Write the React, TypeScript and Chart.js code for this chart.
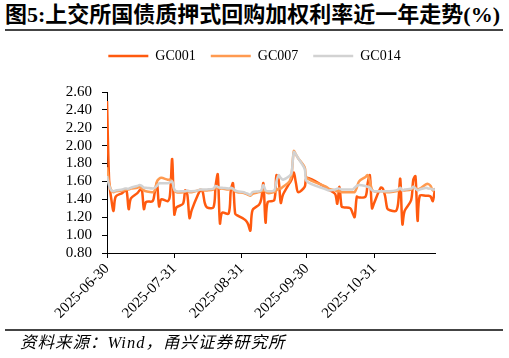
import React, { useEffect, useRef } from 'react';
import { Chart, registerables } from 'chart.js';

Chart.register(...registerables);

const START = '2025-06-30';
const END = '2025-11-28';

const dates = [
  '2025-06-30',
  '2025-07-01','2025-07-02','2025-07-03','2025-07-04','2025-07-07','2025-07-08','2025-07-09','2025-07-10','2025-07-11','2025-07-14','2025-07-15','2025-07-16','2025-07-17','2025-07-18','2025-07-21','2025-07-22','2025-07-23','2025-07-24','2025-07-25','2025-07-28','2025-07-29','2025-07-30','2025-07-31',
  '2025-08-01','2025-08-04','2025-08-05','2025-08-06','2025-08-07','2025-08-08','2025-08-11','2025-08-12','2025-08-13','2025-08-14','2025-08-15','2025-08-18','2025-08-19','2025-08-20','2025-08-21','2025-08-22','2025-08-25','2025-08-26','2025-08-27','2025-08-28','2025-08-29',
  '2025-09-01','2025-09-02','2025-09-03','2025-09-04','2025-09-05','2025-09-08','2025-09-09','2025-09-10','2025-09-11','2025-09-12','2025-09-15','2025-09-16','2025-09-17','2025-09-18','2025-09-19','2025-09-22','2025-09-23','2025-09-24','2025-09-25','2025-09-26','2025-09-29','2025-09-30',
  '2025-10-09','2025-10-10','2025-10-13','2025-10-14','2025-10-15','2025-10-16','2025-10-17','2025-10-20','2025-10-21','2025-10-22','2025-10-23','2025-10-24','2025-10-27','2025-10-28','2025-10-29','2025-10-30','2025-10-31',
  '2025-11-03','2025-11-04','2025-11-05','2025-11-06','2025-11-07','2025-11-10','2025-11-11','2025-11-12','2025-11-13','2025-11-14','2025-11-17','2025-11-18','2025-11-19','2025-11-20','2025-11-21','2025-11-24','2025-11-25','2025-11-26','2025-11-27','2025-11-28',
];

const gc001 = [
  2.50,
  1.60,1.40,1.27,1.43,1.47,1.49,1.50,1.29,1.41,1.47,1.50,1.52,1.29,1.37,1.38,1.48,1.58,1.32,1.40,1.38,1.45,1.85,1.23,
  1.31,1.35,1.50,1.45,1.19,1.28,1.46,1.50,1.49,1.36,1.31,1.31,1.55,1.68,1.13,1.25,1.24,1.50,1.58,1.24,1.22,
  1.18,1.16,1.12,1.05,1.28,1.34,1.40,1.58,1.14,1.37,1.39,1.67,1.62,1.36,1.45,1.58,1.62,1.70,1.58,1.48,1.54,1.64,
  1.53,1.51,1.46,1.35,1.54,1.32,1.31,1.30,1.25,1.20,1.43,1.42,1.43,1.58,1.67,1.30,1.36,
  1.53,1.52,1.44,1.30,1.28,1.27,1.35,1.63,1.12,1.27,1.39,1.62,1.66,1.16,1.44,1.44,1.44,1.43,1.38,1.52,
];

const gc007 = [
  1.76,
  1.58,1.50,1.48,1.49,1.50,1.50,1.51,1.51,1.52,1.53,1.54,1.52,1.50,1.49,1.48,1.50,1.60,1.63,1.64,1.62,1.62,1.60,1.50,
  1.48,1.48,1.49,1.49,1.48,1.48,1.50,1.51,1.50,1.50,1.50,1.51,1.53,1.53,1.52,1.52,1.51,1.52,1.51,1.49,1.48,
  1.47,1.46,1.45,1.44,1.46,1.48,1.49,1.50,1.49,1.47,1.48,1.50,1.52,1.52,1.54,1.60,1.68,1.94,1.90,1.86,1.76,1.64,
  1.54,1.52,1.50,1.49,1.49,1.48,1.48,1.48,1.48,1.48,1.53,1.60,1.65,1.67,1.60,1.51,1.49,
  1.49,1.49,1.48,1.48,1.48,1.49,1.50,1.52,1.50,1.50,1.51,1.54,1.53,1.51,1.52,1.57,1.57,1.55,1.50,1.52,
];

const gc014 = [
  1.66,
  1.55,1.50,1.49,1.50,1.51,1.52,1.52,1.52,1.53,1.55,1.56,1.55,1.53,1.53,1.52,1.53,1.55,1.58,1.58,1.58,1.59,1.60,1.51,
  1.49,1.49,1.49,1.50,1.49,1.49,1.50,1.51,1.51,1.51,1.51,1.52,1.55,1.54,1.53,1.53,1.52,1.53,1.52,1.50,1.49,
  1.48,1.47,1.46,1.45,1.48,1.49,1.50,1.56,1.50,1.49,1.50,1.60,1.67,1.64,1.62,1.66,1.70,1.93,1.90,1.86,1.74,1.60,
  1.51,1.50,1.51,1.52,1.52,1.51,1.51,1.51,1.51,1.53,1.55,1.56,1.55,1.54,1.53,1.50,1.49,
  1.49,1.49,1.49,1.49,1.49,1.50,1.51,1.53,1.50,1.51,1.52,1.54,1.52,1.50,1.51,1.53,1.52,1.52,1.51,1.51,
];

const seriesNames = ['GC001', 'GC007', 'GC014'];
const seriesColors = ['#FF5A0F', '#FF9A50', '#D2D2D2'];
const tickDates = ['2025-06-30', '2025-07-31', '2025-08-31', '2025-09-30', '2025-10-31'];
const yMin = 0.8;
const yMax = 2.6;
const yStep = 0.2;

const DAY = 86400000;
const dayIndex = (d: string) => Math.round((Date.parse(d) - Date.parse(START)) / DAY);
const dateForDay = (n: number) => new Date(Date.parse(START) + n * DAY).toISOString().slice(0, 10);

const FONT = '"Liberation Serif", "Times New Roman", serif';

export default function App() {
  const ref = useRef<HTMLCanvasElement | null>(null);

  useEffect(() => {
    if (!ref.current) return;
    const values = [gc001, gc007, gc014];
    const datasets = values.map((vals, i) => ({
      label: seriesNames[i],
      data: vals.map((v, j) => ({ x: dayIndex(dates[j]), y: v })),
      borderColor: seriesColors[i],
      backgroundColor: seriesColors[i],
      borderWidth: 2.5,
      pointRadius: 0,
      tension: 0.3,
      fill: false,
      order: 3 - i,
      yAxisID: 'y',
    }));

    const legendSpace = {
      id: 'legendSpace',
      beforeInit(chart: any) {
        const orig = chart.legend.fit;
        chart.legend.fit = function () {
          orig.call(this);
          this.height += 19;
        };
      },
    };

    const chart = new Chart(ref.current, {
      type: 'line',
      data: { datasets },
      plugins: [legendSpace],
      options: {
        animation: false,
        responsive: false,
        devicePixelRatio: 1,
        layout: { padding: 0 },
        plugins: {
          tooltip: { enabled: false },
          legend: {
            display: true,
            position: 'top',
            labels: {
              font: { family: FONT, size: 14 },
              color: '#000',
              usePointStyle: true,
              pointStyle: 'line',
              pointStyleWidth: 40,
              padding: 15,
              sort: (a: any, b: any) => a.datasetIndex - b.datasetIndex,
            },
          },
        },
        scales: {
          x: {
            type: 'linear',
            min: 0,
            max: dayIndex(END),
            afterBuildTicks: (axis: any) => {
              axis.ticks = tickDates.map((d) => ({ value: dayIndex(d) }));
            },
            afterFit: (axis: any) => {
              axis.height = 77;
            },
            ticks: {
              autoSkip: false,
              minRotation: 45,
              maxRotation: 45,
              padding: 2,
              color: '#000',
              font: { family: FONT, size: 15 },
              callback: (v: any) => dateForDay(Number(v)),
            },
            grid: { drawOnChartArea: false, drawTicks: true, tickLength: 5, tickColor: '#000', tickWidth: 1 },
            border: { display: true, color: '#000', width: 1 },
          },
          y: {
            type: 'linear',
            position: 'left',
            min: yMin,
            max: yMax,
            afterFit: (axis: any) => {
              axis.width = 107;
            },
            ticks: {
              stepSize: yStep,
              autoSkip: false,
              padding: 10,
              color: '#000',
              font: { family: FONT, size: 15 },
              callback: (v: any) => Number(v).toFixed(2),
            },
            grid: { drawOnChartArea: false, drawTicks: true, tickLength: 5, tickColor: '#000', tickWidth: 1 },
            border: { display: true, color: '#000', width: 1 },
          },
          yRight: {
            type: 'linear',
            position: 'right',
            display: true,
            afterFit: (axis: any) => {
              axis.width = 74;
            },
            ticks: { display: false },
            grid: { display: false, drawTicks: false },
            border: { display: false },
          },
        },
      },
    } as any);
    return () => chart.destroy();
  }, []);

  return (
    <div style={{ position: 'fixed', left: 0, top: 0, width: 509, height: 358, background: '#fff', overflow: 'hidden' }}>
      <div
        style={{
          position: 'absolute',
          left: 5,
          top: 3,
          fontFamily: '"Liberation Serif", "Noto Sans CJK SC", serif',
          fontWeight: 700,
          fontSize: 22,
          lineHeight: '24px',
          whiteSpace: 'nowrap',
          color: '#000',
        }}
      >
        图5:上交所国债质押式回购加权利率近一年走势(%)
      </div>
      <div style={{ position: 'absolute', left: 5, top: 29, width: 498, height: 1.5, background: '#444' }} />
      <canvas ref={ref} width={509} height={296} style={{ position: 'absolute', left: 0, top: 34, width: 509, height: 296 }} />
      <div style={{ position: 'absolute', left: 5, top: 329, width: 498, height: 1.5, background: '#444' }} />
      <div
        style={{
          position: 'absolute',
          left: 20,
          top: 334,
          fontFamily: '"Liberation Serif", "Noto Sans CJK SC", serif',
          fontStyle: 'italic',
          fontSize: 16.5,
          lineHeight: '18px',
          letterSpacing: 1,
          whiteSpace: 'nowrap',
          color: '#000',
        }}
      >
        资料来源：Wind，甬兴证券研究所
      </div>
    </div>
  );
}
